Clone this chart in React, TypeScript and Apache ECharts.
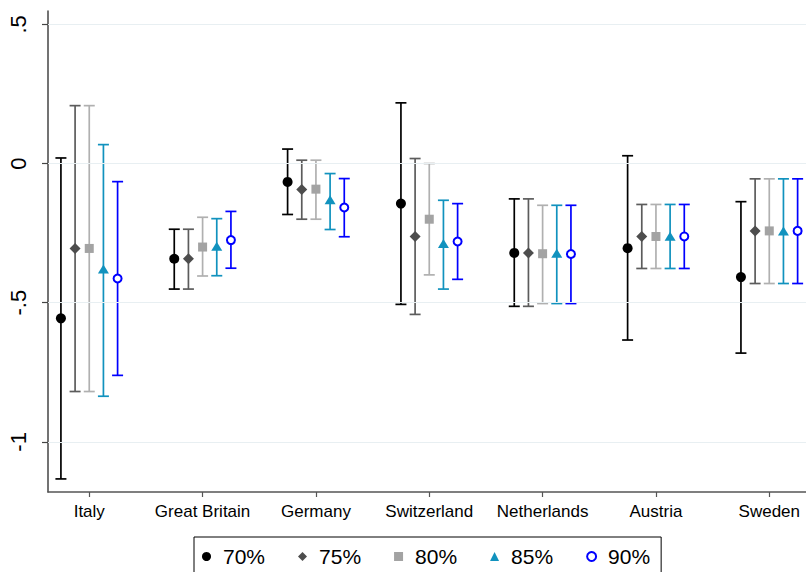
import React, { useEffect, useRef } from "react";
import * as echarts from "echarts";

const countries = ["Italy", "Great Britain", "Germany", "Switzerland", "Netherlands", "Austria", "Sweden"];
const levels = ["70%", "75%", "80%", "85%", "90%"];

const est70 = [-0.556, -0.342, -0.066, -0.144, -0.321, -0.304, -0.408];
const lo70 = [-1.133, -0.451, -0.183, -0.506, -0.513, -0.634, -0.681];
const hi70 = [0.020, -0.236, 0.052, 0.218, -0.127, 0.028, -0.137];

const est75 = [-0.305, -0.342, -0.093, -0.262, -0.321, -0.262, -0.242];
const lo75 = [-0.819, -0.451, -0.200, -0.542, -0.513, -0.377, -0.431];
const hi75 = [0.208, -0.236, 0.012, 0.018, -0.127, -0.147, -0.055];

const est80 = [-0.305, -0.300, -0.092, -0.200, -0.324, -0.262, -0.242];
const lo80 = [-0.819, -0.404, -0.200, -0.400, -0.503, -0.377, -0.431];
const hi80 = [0.208, -0.193, 0.012, 0.000, -0.150, -0.147, -0.055];

const est85 = [-0.379, -0.297, -0.130, -0.287, -0.322, -0.261, -0.242];
const lo85 = [-0.836, -0.403, -0.237, -0.451, -0.503, -0.377, -0.431];
const hi85 = [0.068, -0.198, -0.036, -0.132, -0.150, -0.147, -0.055];

const est90 = [-0.413, -0.275, -0.158, -0.280, -0.325, -0.262, -0.242];
const lo90 = [-0.761, -0.376, -0.263, -0.416, -0.503, -0.377, -0.431];
const hi90 = [-0.065, -0.172, -0.054, -0.144, -0.150, -0.147, -0.055];

const yTicks = [0.5, 0, -0.5, -1];
const yTickLabels = [".5", "0", "-.5", "-1"];

const estimates = [est70, est75, est80, est85, est90];
const lows = [lo70, lo75, lo80, lo85, lo90];
const highs = [hi70, hi75, hi80, hi85, hi90];

// layout / style (not data)
const offsets = [-0.25, -0.125, 0, 0.125, 0.25];
const barColors = ["#000000", "#5c5c5c", "#b0b0b0", "#1192be", "#0000ff"];
const markerColors = ["#000000", "#4d4d4d", "#a3a3a3", "#1192be", "#0000ff"];
const symbols = ["circle", "diamond", "rect", "triangle", "circle"];
const hollowFlags = [false, false, false, false, true];
const symbolSizes: any[] = [10, [11, 11], 9, [11, 9], 8];

const FONT = "Liberation Sans, Arial, Helvetica, sans-serif";

export default function App() {
  const ref = useRef<HTMLDivElement>(null);

  useEffect(() => {
    if (!ref.current) return;
    const chart = echarts.init(ref.current, null, { renderer: "svg" });

    const series: any[] = [];

    series.push({
      type: "scatter",
      name: "grid",
      data: [],
      z: 0,
      silent: true,
      markLine: {
        silent: true,
        symbol: "none",
        label: { show: false },
        lineStyle: { color: "#e8eff2", width: 1.2, type: "solid" },
        data: yTicks.map((v) => ({ yAxis: v })),
      },
    });

    levels.forEach((lv, i) => {
      const data = countries.map((c, k) => [k + 1 + offsets[i], lows[i][k], highs[i][k]]);
      series.push({
        type: "custom",
        name: lv + " CI",
        z: 2,
        silent: true,
        encode: { x: 0, y: [1, 2] },
        data,
        renderItem: (params: any, api: any) => {
          const x = api.value(0);
          const lo = api.value(1);
          const hi = api.value(2);
          const pLo = api.coord([x, lo]);
          const pHi = api.coord([x, hi]);
          const half = 5.5;
          const style = { stroke: barColors[i], lineWidth: 1.7 };
          return {
            type: "group",
            children: [
              { type: "line", shape: { x1: pLo[0], y1: pLo[1], x2: pHi[0], y2: pHi[1] }, style },
              { type: "line", shape: { x1: pHi[0] - half, y1: pHi[1], x2: pHi[0] + half, y2: pHi[1] }, style },
              { type: "line", shape: { x1: pLo[0] - half, y1: pLo[1], x2: pLo[0] + half, y2: pLo[1] }, style },
            ],
          };
        },
      });
    });

    levels.forEach((lv, i) => {
      const data = countries.map((c, k) => [k + 1 + offsets[i], estimates[i][k]]);
      const hollow = hollowFlags[i];
      series.push({
        type: "scatter",
        name: lv,
        z: 5,
        symbol: symbols[i],
        symbolSize: symbolSizes[i],
        data,
        itemStyle: hollow
          ? { color: "#ffffff", borderColor: markerColors[i], borderWidth: 2, opacity: 1 }
          : { color: markerColors[i], opacity: 1 },
      });
    });

    const option: any = {
      animation: false,
      backgroundColor: "#ffffff",
      textStyle: { fontFamily: FONT },
      grid: { left: 48, right: 0, top: 11, bottom: 80, containLabel: false },
      xAxis: {
        type: "value",
        min: 0.636,
        max: 7.324,
        axisLine: { show: true, onZero: false, lineStyle: { color: "#555555", width: 1.5 } },
        axisTick: { show: true, length: 5, customValues: countries.map((c, k) => k + 1), lineStyle: { color: "#555555", width: 1.2 } },
        axisLabel: {
          show: true,
          customValues: countries.map((c, k) => k + 1),
          formatter: (v: number) => countries[Math.round(v) - 1] ?? "",
          color: "#000000",
          fontSize: 17,
          fontFamily: FONT,
          margin: 11,
        },
        splitLine: { show: false },
      },
      yAxis: {
        type: "value",
        min: -1.18,
        max: 0.548,
        axisLine: { show: true, lineStyle: { color: "#444444", width: 1.5 } },
        axisTick: { show: true, length: 6, customValues: yTicks, lineStyle: { color: "#444444", width: 1.2 } },
        axisLabel: {
          show: true,
          customValues: yTicks,
          rotate: 90,
          formatter: (v: number) => {
            const idx = yTicks.findIndex((t) => Math.abs(t - v) < 1e-6);
            return idx >= 0 ? yTickLabels[idx] : "";
          },
          color: "#000000",
          fontSize: 22,
          fontFamily: FONT,
          margin: 19,
        },
        splitLine: { show: false },
      },
      legend: {
        show: true,
        left: 194,
        top: 537,
        orient: "horizontal",
        borderColor: "#000000",
        borderWidth: 1,
        padding: [9, 11, 20, 8],
        itemWidth: 9,
        itemHeight: 9,
        itemGap: 33,
        textStyle: { fontSize: 21, color: "#000000", fontFamily: FONT, padding: [0, 0, 0, 7] },
        data: levels.map((lv, i) => ({ name: lv, icon: symbols[i] })),
        selectedMode: false,
      },
      series,
    };

    chart.setOption(option);
    return () => chart.dispose();
  }, []);

  return (
    <div style={{ position: "fixed", left: 0, top: 0, width: 806, height: 572, background: "#fff" }}>
      <div ref={ref} style={{ width: 806, height: 572 }} />
    </div>
  );
}
